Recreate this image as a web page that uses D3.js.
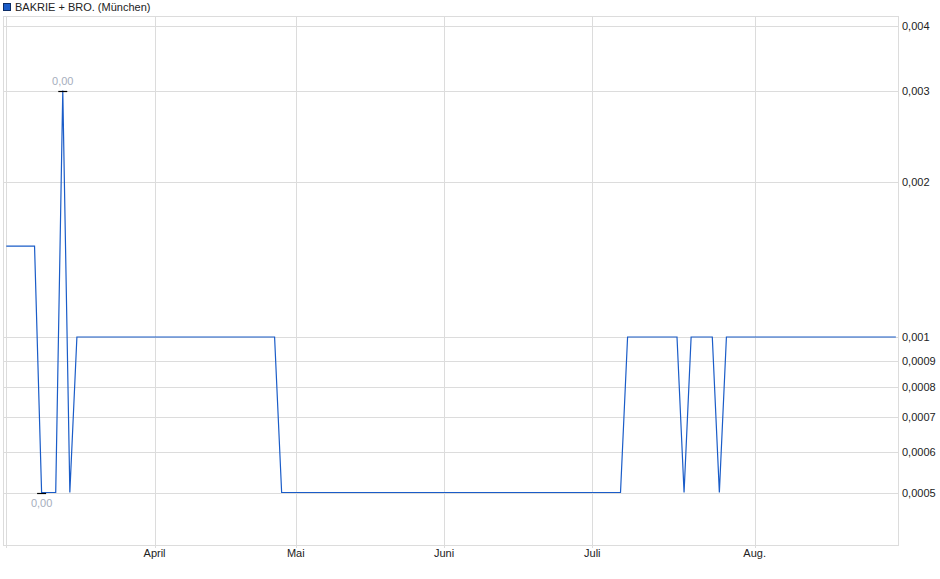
<!DOCTYPE html>
<html>
<head>
<meta charset="utf-8">
<script src="https://cdn.jsdelivr.net/npm/d3@7"></script>
<style>
  body { margin: 0; background: #fff; }
  svg text { font-family: "Liberation Sans", Arial, sans-serif; font-size: 11px; }
</style>
</head>
<body>
<div id="chart"></div>
<script>
// Schlusskurse je Handelstag (03.03. bis 29.08.), Index = Handelstag
const values = [
  0.0015, 0.0015, 0.0015, 0.0015, 0.0015, 0.0005, 0.0005, 0.0005, 0.003, 0.0005,
  0.001, 0.001, 0.001, 0.001, 0.001, 0.001, 0.001, 0.001, 0.001, 0.001,
  0.001, 0.001, 0.001, 0.001, 0.001, 0.001, 0.001, 0.001, 0.001, 0.001,
  0.001, 0.001, 0.001, 0.001, 0.001, 0.001, 0.001, 0.001, 0.001, 0.0005,
  0.0005, 0.0005, 0.0005, 0.0005, 0.0005, 0.0005, 0.0005, 0.0005, 0.0005, 0.0005,
  0.0005, 0.0005, 0.0005, 0.0005, 0.0005, 0.0005, 0.0005, 0.0005, 0.0005, 0.0005,
  0.0005, 0.0005, 0.0005, 0.0005, 0.0005, 0.0005, 0.0005, 0.0005, 0.0005, 0.0005,
  0.0005, 0.0005, 0.0005, 0.0005, 0.0005, 0.0005, 0.0005, 0.0005, 0.0005, 0.0005,
  0.0005, 0.0005, 0.0005, 0.0005, 0.0005, 0.0005, 0.0005, 0.0005, 0.001, 0.001,
  0.001, 0.001, 0.001, 0.001, 0.001, 0.001, 0.0005, 0.001, 0.001, 0.001,
  0.001, 0.0005, 0.001, 0.001, 0.001, 0.001, 0.001, 0.001, 0.001, 0.001,
  0.001, 0.001, 0.001, 0.001, 0.001, 0.001, 0.001, 0.001, 0.001, 0.001,
  0.001, 0.001, 0.001, 0.001, 0.001, 0.001, 0.001
];

// Monatsanfaenge (Index des ersten Handelstags)
const monthLabels = ["", "April", "Mai", "Juni", "Juli", "Aug."];
const monthStarts = [0, 21, 41, 62, 83, 106];

const yTicks = [0.0005, 0.0006, 0.0007, 0.0008, 0.0009, 0.001, 0.002, 0.003, 0.004];
const yTickLabels = ["0,0005", "0,0006", "0,0007", "0,0008", "0,0009", "0,001", "0,002", "0,003", "0,004"];

const seriesName = "BAKRIE + BRO. (München)";

const W = 940, H = 579;
const frame = { left: 3, right: 898, top: 16, bottom: 545 };

const svg = d3.select("#chart")
  .append("svg")
  .attr("width", W)
  .attr("height", H);

const x = d3.scaleLinear()
  .domain([0, values.length - 1])
  .range([6.3, 6.3 + 7.06 * (values.length - 1)]);

const y = d3.scaleLog()
  .domain([0.0005, 0.004])
  .range([492.5, 26]);

const gridColor = "#dcdcdc";

// Rahmen
svg.append("rect")
  .attr("x", frame.left + 0.5)
  .attr("y", frame.top + 0.5)
  .attr("width", frame.right - frame.left)
  .attr("height", frame.bottom - frame.top)
  .attr("fill", "none")
  .attr("stroke", gridColor);

// horizontale Gitterlinien
svg.append("g")
  .selectAll("line")
  .data(yTicks)
  .enter()
  .append("line")
  .attr("x1", frame.left)
  .attr("x2", frame.right)
  .attr("y1", d => Math.round(y(d)) + 0.5)
  .attr("y2", d => Math.round(y(d)) + 0.5)
  .attr("stroke", gridColor);

// vertikale Gitterlinien
svg.append("g")
  .selectAll("line")
  .data(monthStarts)
  .enter()
  .append("line")
  .attr("x1", d => Math.round(x(d)) + 0.5)
  .attr("x2", d => Math.round(x(d)) + 0.5)
  .attr("y1", frame.top)
  .attr("y2", frame.bottom + 3)
  .attr("stroke", gridColor);

// x-Achse Beschriftung
svg.append("g")
  .selectAll("text")
  .data(monthStarts)
  .enter()
  .append("text")
  .attr("x", d => x(d))
  .attr("y", 557)
  .attr("text-anchor", "middle")
  .attr("fill", "#222")
  .text((d, i) => monthLabels[i]);

// y-Achse Beschriftung (rechts)
svg.append("g")
  .selectAll("text")
  .data(yTicks)
  .enter()
  .append("text")
  .attr("x", 902)
  .attr("y", d => y(d) + 4)
  .attr("fill", "#222")
  .text((d, i) => yTickLabels[i]);

// Kurslinie
const line = d3.line()
  .x((d, i) => x(i))
  .y(d => y(d));

svg.append("path")
  .datum(values)
  .attr("d", line)
  .attr("fill", "none")
  .attr("stroke", "#1a5cc8")
  .attr("stroke-width", 1.2);

// Hoch- und Tiefpunkt markieren
const iMax = d3.maxIndex(values);
const iMin = d3.minIndex(values);

[[iMax, -1], [iMin, 1]].forEach(([i, dir]) => {
  svg.append("line")
    .attr("x1", x(i) - 4.5)
    .attr("x2", x(i) + 4.5)
    .attr("y1", Math.round(y(values[i])) + 0.5)
    .attr("y2", Math.round(y(values[i])) + 0.5)
    .attr("stroke", "#000")
    .attr("stroke-width", 1.2);
  svg.append("text")
    .attr("x", x(i))
    .attr("y", dir < 0 ? y(values[i]) - 6 : y(values[i]) + 14)
    .attr("text-anchor", "middle")
    .attr("fill", "#a6aebd")
    .text(d3.format(".2f")(values[i]).replace(".", ","));
});

// Legende
svg.append("rect")
  .attr("x", 3.5)
  .attr("y", 3.5)
  .attr("width", 7)
  .attr("height", 7)
  .attr("fill", "#1a5cc8")
  .attr("stroke", "#0d2d66");

svg.append("text")
  .attr("x", 15)
  .attr("y", 11)
  .attr("fill", "#222")
  .text(seriesName);
</script>
</body>
</html>
